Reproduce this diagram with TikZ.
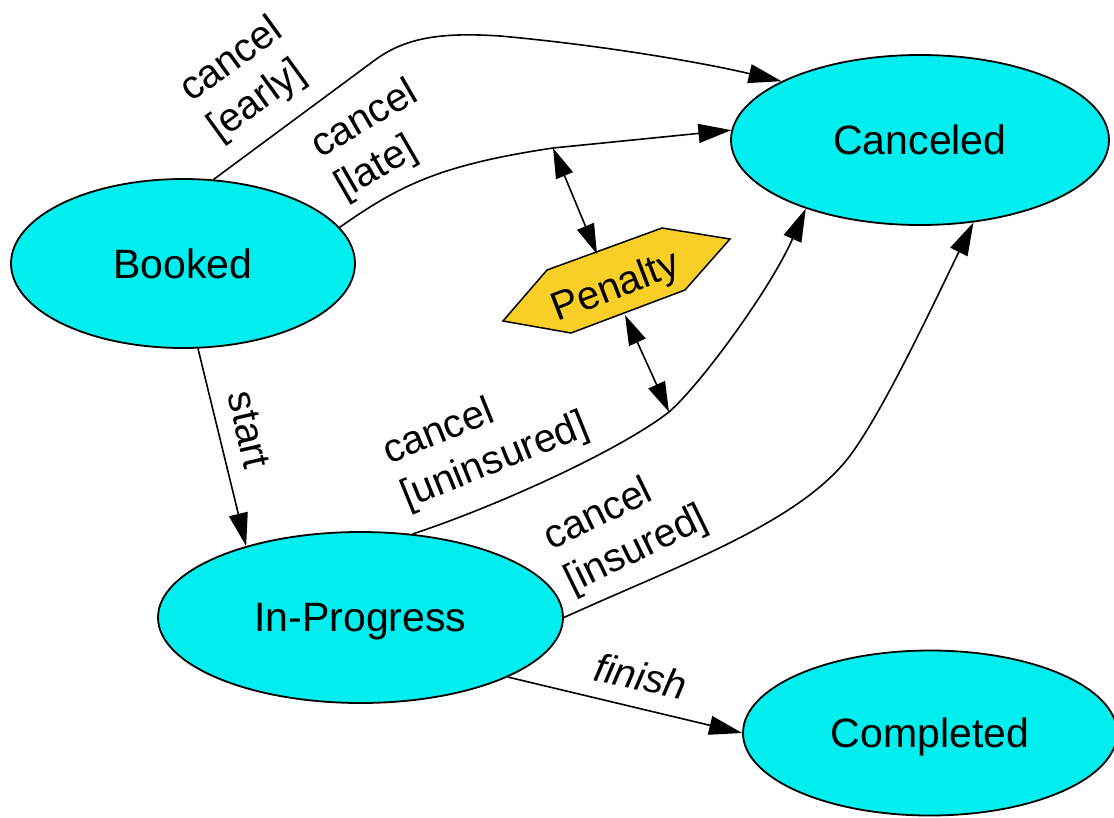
\documentclass[tikz,border=0pt]{standalone}
\usepackage{fontspec}
\setmainfont{Liberation Sans}
\usetikzlibrary{arrows.meta,shapes.geometric}
\definecolor{statecyan}{RGB}{0,238,238}
\definecolor{penaltygold}{RGB}{249,206,38}
\begin{document}
\begin{tikzpicture}[x=1pt,y=-1pt,
  state/.style={ellipse, draw=black, line width=1.8pt, fill=statecyan, inner sep=0pt, text depth=0pt, font=\fontsize{41}{49}\selectfont},
  trans/.style={line width=1.6pt, -{Triangle[length=33pt,width=19pt]}},
  dbl/.style={line width=1.6pt, {Triangle[length=30pt,width=18pt]}-{Triangle[length=30pt,width=18pt]}},
  lbl/.style={font=\fontsize{40}{48}\selectfont, align=left, inner sep=0pt},
]
\useasboundingbox (0,0) rectangle (1114,817);

% states
\node[state, minimum width=378pt, minimum height=170pt] (canceled) at (920,140) {Canceled};
\node[state, minimum width=344pt, minimum height=169pt] (booked) at (183,263.5) {Booked};
\node[state, minimum width=405pt, minimum height=171pt] (inprog) at (360.5,617.5) {In-Progress};
\node[state, minimum width=374pt, minimum height=165pt] (completed) at (930,733) {Completed};

% penalty
\filldraw[fill=penaltygold, draw=black, line width=1.5pt]
  (503,321) -- (547,270) -- (662,228) -- (730,239) -- (685,290) -- (571,333) -- cycle;
\node[lbl, rotate=21] (penalty) at (616,288) {Penalty};
\coordinate (ptop) at (597,254);
\coordinate (pbot) at (625,315);

% transitions
\draw[trans] (booked.70.8) -- (375,60) .. controls (405,38) and (440,32) .. (500,36)
  .. controls (600,45) and (700,62) .. (canceled.157.5);
\draw[trans] (booked.13.8) .. controls (400,185) and (440,165) .. (553,148) coordinate (pl)
  -- (canceled.177);
\draw[trans] (inprog.58.4) .. controls (500,505) and (620,450) .. (669,412) coordinate (pu)
  .. controls (700,385) and (770,290) .. (canceled.211.6);
\draw[trans] (inprog.0) .. controls (680,565) and (792,525) .. (845,462)
  .. controls (880,420) and (940,290) .. (canceled.-57.4);
\draw[trans] (booked.-80.8) -- (inprog.148.3);
\draw[trans] (inprog.-22) -- (completed.180);

\draw[dbl] (pl) -- (ptop);
\draw[dbl] (pbot) -- (pu);

% labels
\node[lbl, rotate=36] (learly) at (246,80) {cancel\\{}[early]};
\node[lbl, rotate=30] (llate) at (377,141) {cancel\\{}[late]};
\node[lbl, rotate=-77] (lstart) at (249,430) {start};
\node[lbl, rotate=22] (luninsured) at (486,440) {cancel\\{}[uninsured]};
\node[lbl, rotate=26] (linsured) at (626,529) {cancel\\{}[insured]};
\node[lbl, rotate=-12, font=\fontsize{40}{48}\selectfont\itshape] (lfinish) at (641,676) {finish};
\end{tikzpicture}
\end{document}
